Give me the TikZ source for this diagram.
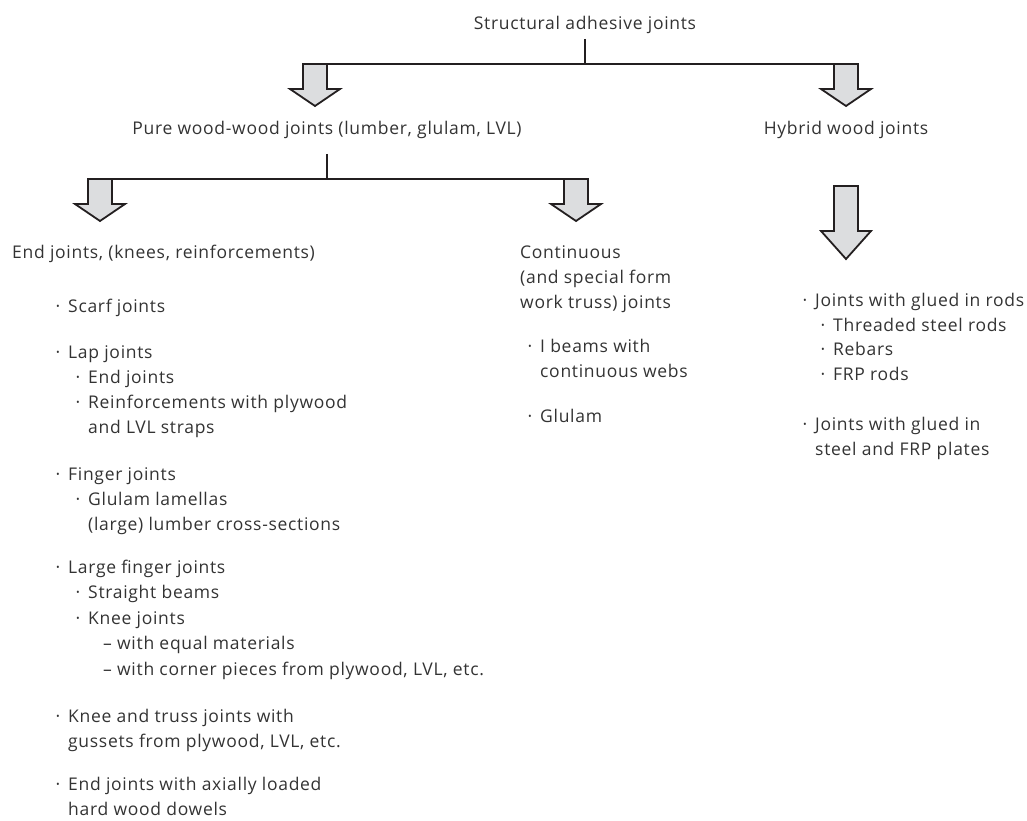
\documentclass[tikz,border=0pt]{standalone}
\usepackage{fontspec}
\setmainfont{Open Sans}[LetterSpace=4]
\usepackage{xcolor}
\usepackage{tikz}
\usetikzlibrary{positioning, calc}
\definecolor{inkgray}{HTML}{231F20}
\definecolor{textgray}{HTML}{333333}
\definecolor{arrowfill}{HTML}{DCDDDF}

\newcommand{\bul}{\llap{\textperiodcentered\hspace{8pt}}}
\newcommand{\lines}[1]{\begin{tabular}[t]{@{}l@{}}#1\end{tabular}}
% block arrow: centre x, top y, shaft length, head length
\newcommand{\blockarrow}[4]{%
  \filldraw[blockarr] (#1-12,#2) -- (#1-12,#2+#3) -- (#1-25,#2+#3) -- (#1,#2+#3+#4)
    -- (#1+25,#2+#3) -- (#1+12,#2+#3) -- (#1+12,#2) -- cycle;}

\tikzset{
  txt/.style={inner sep=0pt, text=textgray, font=\fontsize{17.5}{25}\selectfont},
  toplabel/.style={txt, anchor=center},
  item/.style={txt, anchor=base west},
  conn/.style={draw=inkgray, line width=1.8pt},
  blockarr/.style={draw=inkgray, fill=arrowfill, line width=1.8pt, line join=miter},
}

\begin{document}
\begin{tikzpicture}[x=1pt, y=-1pt]
    \useasboundingbox (0,0) rectangle (1027,820);

    % Top level
    \node[toplabel] (root) at (585,25) {Structural adhesive joints};
    \coordinate (barL) at (303,64);
    \coordinate (barR) at (858,64);
    \draw[conn, shorten <=5pt] (root.south) -- (root.south |- barL);
    \draw[conn] (barL) -- (barR);
    \blockarrow{315}{64}{25}{17}
    \blockarrow{846}{64}{25}{17}

    % Second level
    \node[toplabel] (pure) at (327,130) {Pure wood-wood joints (lumber, glulam, LVL)};
    \node[toplabel] (hybrid) at (846,130) {Hybrid wood joints};
    \coordinate (subL) at (88,179);
    \coordinate (subR) at (588,179);
    \draw[conn, shorten <=15pt] (pure.south) -- (pure.south |- subL);
    \draw[conn] (subL) -- (subR);
    \blockarrow{100}{179}{25}{17}
    \blockarrow{576}{179}{25}{17}
    \blockarrow{846}{186}{45}{28}

    % End joints column
    \node[item] (endj) at (12,258) {End joints, (knees, reinforcements)};
    \node[item] (scarf) at (68,312) {\bul Scarf joints};
    \node[item] (lap) at (68,358) {\bul Lap joints};
    \node[item] (lapend) at (88,383) {\bul End joints};
    \node[item] (lapreinf) at (88,408) {\lines{\bul Reinforcements with plywood\\and LVL straps}};
    \node[item] (finger) at (68,480) {\bul Finger joints};
    \node[item] (glulamlam) at (88,505) {\lines{\bul Glulam lamellas\\(large) lumber cross-sections}};
    \node[item] (large) at (68,573) {\bul Large finger joints};
    \node[item] (straight) at (88,598) {\bul Straight beams};
    \node[item] (knee) at (88,624) {\bul Knee joints};
    \node[item] (equal) at (103,649) {-- with equal materials};
    \node[item] (corner) at (103,675) {-- with corner pieces from plywood, LVL, etc.};
    \node[item] (truss) at (68,722) {\lines{\bul Knee and truss joints with\\gussets from plywood, LVL, etc.}};
    \node[item] (dowels) at (68,790) {\lines{\bul End joints with axially loaded\\hard wood dowels}};

    % Continuous column
    \node[item] (cont) at (520,258) {\lines{Continuous\\(and special form\\work truss) joints}};
    \node[item] (ibeam) at (540,352) {\lines{\bul I beams with\\continuous webs}};
    \node[item] (glulam) at (540,422) {\bul Glulam};

    % Hybrid column
    \node[item] (rods) at (815,306) {\bul Joints with glued in rods};
    \node[item] (steelrod) at (833,331) {\bul Threaded steel rods};
    \node[item] (rebar) at (833,355) {\bul Rebars};
    \node[item] (frp) at (833,380) {\bul FRP rods};
    \node[item] (plates) at (815,430) {\lines{\bul Joints with glued in\\steel and FRP plates}};
\end{tikzpicture}
\end{document}
